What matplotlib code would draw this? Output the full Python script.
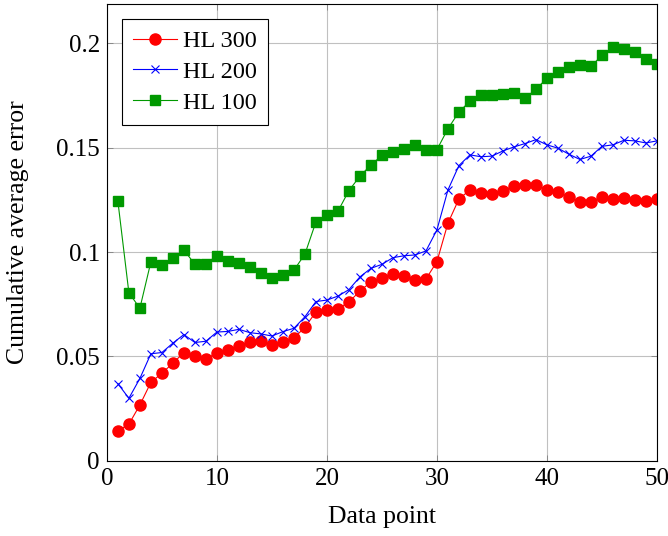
import matplotlib
matplotlib.use("Agg")
import matplotlib.pyplot as plt

plt.rcParams['font.family'] = ['Liberation Serif', 'DejaVu Serif']
plt.rcParams['mathtext.fontset'] = 'stix'

x = list(range(1, 51))

hl300 = [0.0144, 0.0176, 0.0268, 0.0376, 0.0420, 0.0468, 0.0519, 0.0500, 0.0490, 0.0516,
         0.0532, 0.0551, 0.0570, 0.0573, 0.0554, 0.0570, 0.0588, 0.0640, 0.0713, 0.0722,
         0.0729, 0.0760, 0.0814, 0.0856, 0.0878, 0.0897, 0.0887, 0.0868, 0.0871, 0.0954,
         0.1138, 0.1254, 0.1297, 0.1281, 0.1278, 0.1294, 0.1316, 0.1322, 0.1322, 0.1297,
         0.1287, 0.1262, 0.1240, 0.1240, 0.1265, 0.1252, 0.1259, 0.1249, 0.1243, 0.1256]

hl200 = [0.0370, 0.0300, 0.0395, 0.0513, 0.0519, 0.0564, 0.0605, 0.0567, 0.0573, 0.0617,
         0.0620, 0.0630, 0.0614, 0.0608, 0.0598, 0.0619, 0.0635, 0.0690, 0.0763, 0.0770,
         0.0789, 0.0820, 0.0881, 0.0922, 0.0941, 0.0973, 0.0982, 0.0986, 0.1005, 0.1106,
         0.1297, 0.1414, 0.1465, 0.1456, 0.1459, 0.1484, 0.1503, 0.1519, 0.1538, 0.1513,
         0.1497, 0.1468, 0.1443, 0.1459, 0.1506, 0.1513, 0.1535, 0.1532, 0.1522, 0.1532]

hl100 = [0.1243, 0.0805, 0.0731, 0.0953, 0.0938, 0.0970, 0.1010, 0.0941, 0.0945, 0.0982,
         0.0957, 0.0948, 0.0929, 0.0900, 0.0875, 0.0891, 0.0913, 0.0990, 0.1144, 0.1176,
         0.1195, 0.1294, 0.1363, 0.1417, 0.1462, 0.1480, 0.1492, 0.1510, 0.1487, 0.1490,
         0.1590, 0.1670, 0.1722, 0.1750, 0.1750, 0.1757, 0.1763, 0.1738, 0.1778, 0.1833,
         0.1862, 0.1884, 0.1894, 0.1889, 0.1941, 0.1980, 0.1970, 0.1957, 0.1922, 0.1900]

labels = ['HL 300', 'HL 200', 'HL 100']

fig = plt.figure(figsize=(6.68, 5.36), dpi=100)
ax = fig.add_axes([0.160, 0.140, 0.8235, 0.8525])

ax.plot(x, hl300, color='#ff0000', marker='o', markersize=8, linewidth=0.8, label=labels[0])
ax.plot(x, hl200, color='#0000ff', marker='x', markersize=5.5, markeredgewidth=0.8,
        linewidth=0.8, label=labels[1])
ax.plot(x, hl100, color='#009900', marker='s', markersize=7.5, linewidth=0.8, label=labels[2])

ax.set_xlim(0, 50)
ax.set_ylim(0, 0.2187)
ax.set_xticks([0, 10, 20, 30, 40, 50])
ax.set_yticks([0, 0.05, 0.1, 0.15, 0.2])
ax.set_yticklabels(['0', '0.05', '0.1', '0.15', '0.2'])
ax.grid(True, color='#c0c0c0', linewidth=0.8)
ax.set_axisbelow(True)
ax.tick_params(direction='in', top=True, right=True, labelsize=18, length=4, width=0.6,
               color='#808080', pad=5)
for s in ax.spines.values():
    s.set_linewidth(0.8)
    s.set_color('black')

ax.set_xlabel('Data point', fontsize=18.5)
ax.set_ylabel('Cumulative average error', fontsize=18.5)
ax.xaxis.set_label_coords(0.5, -0.098)
ax.yaxis.set_label_coords(-0.142, 0.5)

leg = ax.legend(loc='upper left', bbox_to_anchor=(0.028, 0.967), fontsize=17.5,
                frameon=True, fancybox=False, edgecolor='black', framealpha=1,
                handlelength=1.8, borderpad=0.45, labelspacing=0.36, handletextpad=0.25,
                borderaxespad=0)
leg.get_frame().set_linewidth(0.8)

fig.savefig('out.png', dpi=100)
